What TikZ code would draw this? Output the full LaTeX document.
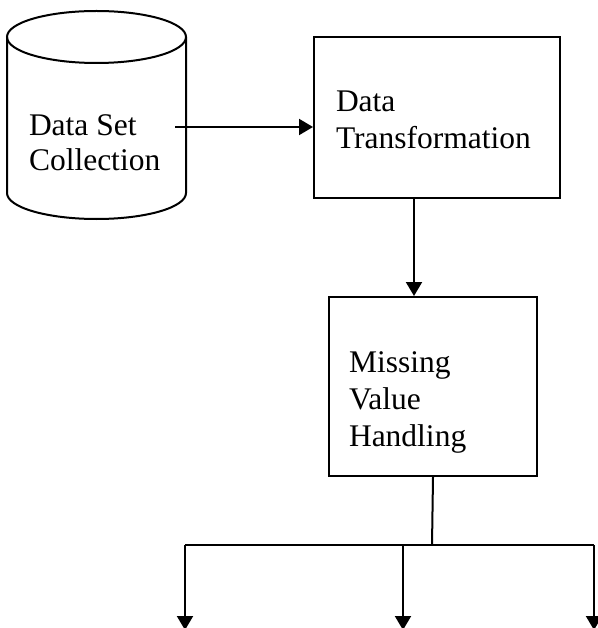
\documentclass[tikz,border=0pt]{standalone}
\usepackage{fontspec}
\setmainfont{Liberation Serif}
\usetikzlibrary{arrows.meta, positioning}

\begin{document}
\begin{tikzpicture}[x=1pt, y=-1pt, line width=2pt, >={Triangle[length=14pt,width=16pt]}]

% =========================
% Styles
% =========================
\tikzset{
    stage/.style={draw, rectangle, inner sep=0pt, anchor=north west},
    txt/.style={anchor=base west, align=left, inner sep=0pt, font=\fontsize{31.5}{37}\selectfont},
    flow/.style={->},
}

\useasboundingbox (0,0) rectangle (597,628);

% =========================
% Data set store (cylinder)
% =========================
\draw (96.5,37) ellipse [x radius=89.5, y radius=26];
\draw (7,37) -- (7,193) arc[start angle=180, end angle=0, x radius=89.5, y radius=26] -- (186,37);
\node[txt, font=\fontsize{31.5}{35}\selectfont] (dsc) at (28,170.7) {Data Set\\Collection};
\coordinate (dsc-out) at (175,127);

% =========================
% Processing stages
% =========================
\node[stage, minimum width=246pt, minimum height=161pt] (dt) at (313,36) {};
\node[txt] (dt-text) at (335,149) {Data\\Transformation};

\node[stage, minimum width=208pt, minimum height=179pt] (mv) at (328,296) {};
\node[txt] (mv-text) at (348,446.5) {Missing\\Value\\Handling};

% =========================
% Connectors
% =========================
\draw[flow] (dsc-out) -- (dsc-out -| dt.west);
\draw[flow] (414,0 |- dt.south) -- (414,0 |- mv.north);

\coordinate (split) at (432,545);
\coordinate (out1) at (185,630);
\coordinate (out2) at (403,630);
\coordinate (out3) at (594,630);

\draw (mv.south) -- (split);
\draw (out1 |- split) -- (out3 |- split);
\foreach \o in {out1,out2,out3}
    \draw[flow] (\o |- split) -- (\o);

\end{tikzpicture}
\end{document}
